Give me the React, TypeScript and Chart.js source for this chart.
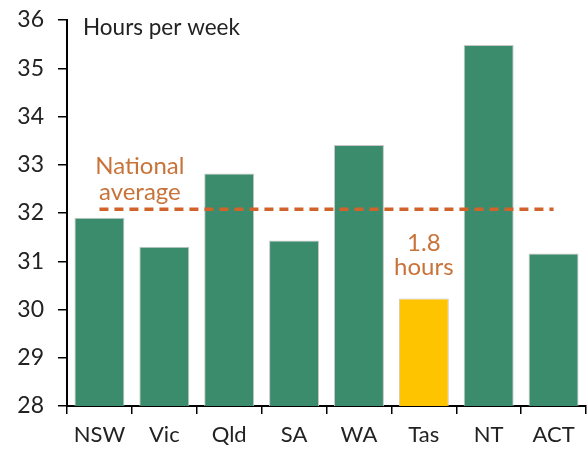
import React, { useEffect, useRef } from "react";
import { Chart, registerables } from "chart.js";

Chart.register(...registerables);

const categories = ["NSW", "Vic", "Qld", "SA", "WA", "Tas", "NT", "ACT"];
const hours = [31.9, 31.3, 32.82, 31.43, 33.41, 30.23, 35.48, 31.16];
const nationalAverage = [32.08, 32.08, 32.08, 32.08, 32.08, 32.08, 32.08, 32.08];
const barColors = ["#3A8C6D", "#3A8C6D", "#3A8C6D", "#3A8C6D", "#3A8C6D", "#FFC400", "#3A8C6D", "#3A8C6D"];
const yTicks = [28, 29, 30, 31, 32, 33, 34, 35, 36];

const FONT = "Lato, 'Open Sans', sans-serif";
const ORANGE_TEXT = "#C8733A";

const annotationPlugin = {
  id: "annotations",
  afterDraw(chart: any) {
    const { ctx } = chart;
    const x = chart.scales.x;
    const y = chart.scales.y;
    ctx.save();
    ctx.font = `22.5px ${FONT}`;
    ctx.fillStyle = "#222";
    ctx.textAlign = "left";
    ctx.textBaseline = "middle";
    ctx.fillText("Hours per week", chart.chartArea.left + 16, y.getPixelForValue(35.84));

    ctx.font = `24px ${FONT}`;
    ctx.fillStyle = ORANGE_TEXT;
    ctx.textAlign = "center";
    const naX = (x.getPixelForValue(0) + x.getPixelForValue(1)) / 2 + 8;
    ctx.fillText("National", naX, y.getPixelForValue(32.96));
    ctx.fillText("average", naX, y.getPixelForValue(32.44));

    const tasX = x.getPixelForValue(5);
    ctx.fillText("1.8", tasX, y.getPixelForValue(31.37));
    ctx.fillText("hours", tasX, y.getPixelForValue(30.87));
    ctx.restore();
  },
};

export default function App() {
  const ref = useRef<HTMLCanvasElement>(null);
  useEffect(() => {
    document.body.style.margin = "0";
    const chart = new Chart(ref.current!, {
      type: "bar",
      data: {
        labels: categories,
        datasets: [
          {
            type: "line" as any,
            data: nationalAverage,
            borderColor: "#D0622A",
            borderWidth: 3.5,
            borderDash: [9, 6],
            pointRadius: 0,
            fill: false,
            order: 0,
          } as any,
          {
            type: "bar",
            data: hours,
            backgroundColor: barColors,
            borderColor: "#C8C8C8",
            borderWidth: 1,
            barPercentage: 0.77,
            categoryPercentage: 1,
            order: 1,
          },
        ],
      },
      options: {
        responsive: false,
        animation: false,
        layout: { padding: { top: 20, right: 2, left: 0, bottom: 0 } },
        plugins: { legend: { display: false }, tooltip: { enabled: false } },
        scales: {
          x: {
            offset: true,
            grid: {
              offset: true,
              drawOnChartArea: false,
              drawTicks: true,
              tickLength: 8,
              color: "#000",
              lineWidth: 1.5,
            },
            border: { display: true, color: "#000", width: 2 },
            ticks: { color: "#222", font: { family: FONT, size: 22 }, padding: 8 },
            afterFit(scale: any) {
              scale.height = 44;
            },
          },
          y: {
            min: 28,
            max: 36,
            afterBuildTicks(scale: any) {
              scale.ticks = yTicks.map((v) => ({ value: v }));
            },
            grid: {
              drawOnChartArea: false,
              drawTicks: true,
              tickLength: 9,
              color: "#000",
              lineWidth: 1.5,
            },
            border: { display: true, color: "#000", width: 2 },
            ticks: { color: "#222", font: { family: FONT, size: 23, lineHeight: 0.4 }, padding: 14 },
            afterFit(scale: any) {
              scale.width = 67;
              scale.paddingTop = 0;
              scale.paddingBottom = 0;
            },
          },
        },
      },
      plugins: [annotationPlugin],
    });
    return () => chart.destroy();
  }, []);
  return <canvas ref={ref} width={588} height={450} style={{ display: "block" }} />;
}
